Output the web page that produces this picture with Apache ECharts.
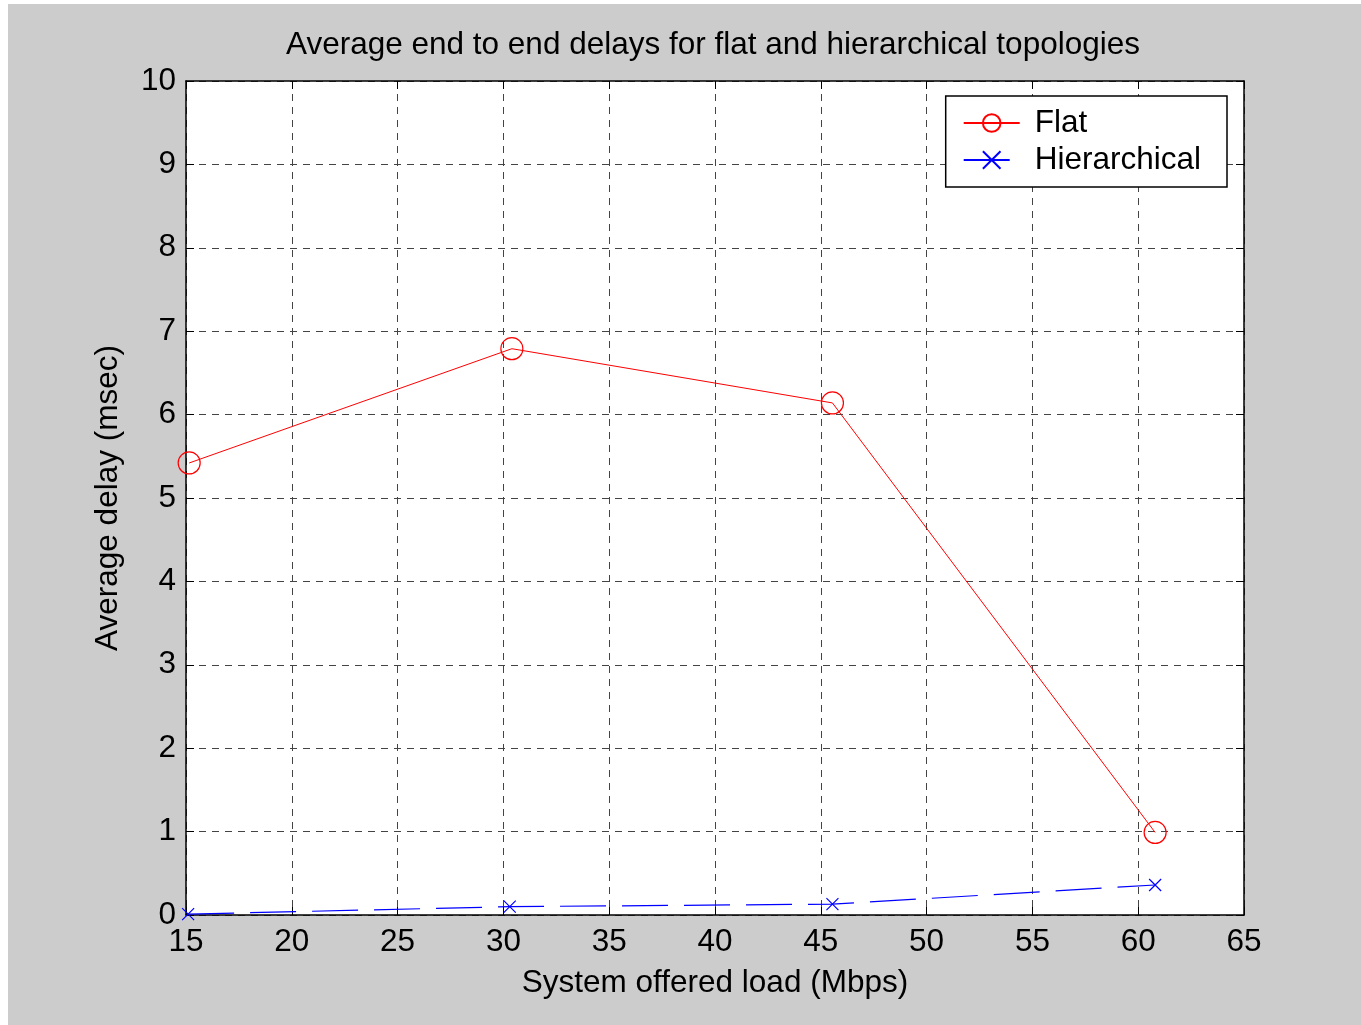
<!DOCTYPE html>
<html>
<head>
<meta charset="utf-8">
<script src="https://cdn.jsdelivr.net/npm/echarts@6/dist/echarts.min.js"></script>
<style>
    html, body {
        margin: 0;
        padding: 0;
        background: #ffffff;
    }
    #chart {
        position: absolute;
        left: 8px;
        top: 4px;
        width: 1353px;
        height: 1021px;
    }
</style>
</head>
<body>
<div id="chart"></div>
<script>
// data
const flatLoad = [15.15, 30.4, 45.55, 60.8];
const flatDelay = [5.42, 6.79, 6.14, 0.99];
const hierLoad = [15.1, 30.3, 45.55, 60.8];
const hierDelay = [0.01, 0.1, 0.13, 0.36];

const FONT = 'Liberation Sans, Arial, sans-serif';
const FS = 31.5;

const zip = (xs, ys) => xs.map((x, i) => [x, ys[i]]);

const chart = echarts.init(document.getElementById('chart'));

// grid lines are dashed, ticks point inward like the original plot
const gridLine = {
    show: true,
    lineStyle: {
        color: '#444',
        type: [7, 6],
        width: 1
    }
};

const plainAxis = {
    axisLine: {
        show: true,
        onZero: false,
        lineStyle: {color: '#000', width: 1.5}
    },
    axisTick: {
        show: true,
        inside: true,
        length: 8,
        lineStyle: {color: '#000'}
    }
};

chart.setOption({
    backgroundColor: '#cccccc',
    animation: false,
    title: {
        text: 'Average end to end delays for flat and hierarchical topologies',
        left: 273,
        top: 20,
        textStyle: {
            fontFamily: FONT,
            fontWeight: 'normal',
            fontSize: FS,
            color: '#000'
        }
    },
    grid: {
        left: 178,
        top: 77,
        width: 1058,
        height: 834,
        show: true,
        backgroundColor: '#ffffff',
        borderWidth: 0
    },
    legend: {
        right: 134,
        top: 92,
        orient: 'vertical',
        backgroundColor: '#ffffff',
        borderColor: '#000',
        borderWidth: 1.5,
        borderRadius: 0,
        padding: [11, 26, 11, 17],
        itemWidth: 56,
        itemHeight: 22,
        itemGap: 5,
        textStyle: {
            fontFamily: FONT,
            fontSize: FS,
            color: '#000',
            padding: [0, 0, 0, 10]
        },
        data: ['Flat', 'Hierarchical']
    },
    xAxis: [
        Object.assign({
            type: 'value',
            min: 15,
            max: 65,
            interval: 5,
            name: 'System offered load (Mbps)',
            nameLocation: 'middle',
            nameGap: 52,
            nameTextStyle: {fontFamily: FONT, fontSize: FS, color: '#000'},
            axisLabel: {fontFamily: FONT, fontSize: FS, color: '#000', margin: 11},
            splitLine: gridLine
        }, plainAxis),
        Object.assign({
            type: 'value',
            position: 'top',
            min: 15,
            max: 65,
            interval: 5,
            axisLabel: {show: false},
            splitLine: {show: false}
        }, plainAxis)
    ],
    yAxis: [
        Object.assign({
            type: 'value',
            min: 0,
            max: 10,
            interval: 1,
            name: 'Average delay (msec)',
            nameLocation: 'middle',
            nameGap: 62,
            nameTextStyle: {fontFamily: FONT, fontSize: FS, color: '#000'},
            axisLabel: {fontFamily: FONT, fontSize: FS, color: '#000', margin: 10},
            splitLine: gridLine
        }, plainAxis),
        Object.assign({
            type: 'value',
            position: 'right',
            min: 0,
            max: 10,
            interval: 1,
            axisLabel: {show: false},
            splitLine: {show: false}
        }, plainAxis)
    ],
    series: [
        {
            name: 'Flat',
            type: 'line',
            data: zip(flatLoad, flatDelay),
            symbol: 'circle',
            symbolSize: 22,
            showAllSymbol: true,
            color: '#ff0000',
            lineStyle: {color: '#ff0000', width: 1},
            itemStyle: {color: 'transparent', borderColor: '#ff0000', borderWidth: 1.2}
        },
        {
            name: 'Hierarchical',
            type: 'line',
            data: zip(hierLoad, hierDelay),
            symbol: 'path://M0,0 L10,10 M10,0 L0,10',
            symbolSize: 12,
            showAllSymbol: true,
            color: '#0000ff',
            lineStyle: {color: '#0000ff', width: 1.2, type: [46, 16]},
            itemStyle: {color: 'transparent', borderColor: '#0000ff', borderWidth: 1.2}
        }
    ]
});
</script>
</body>
</html>
